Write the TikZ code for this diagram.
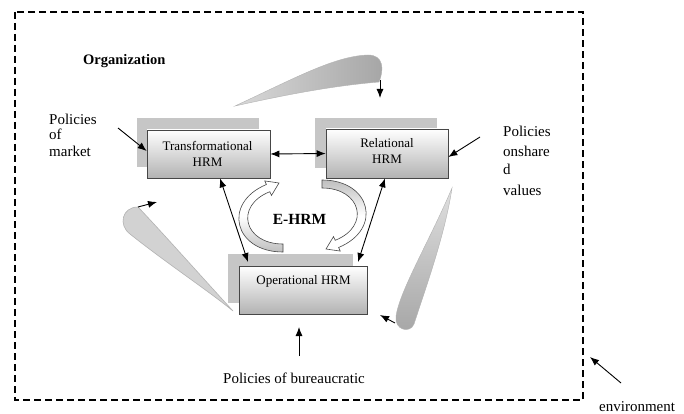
\documentclass[tikz,border=0pt]{standalone}
\usepackage{fontspec}
\setmainfont{Liberation Serif}
\usetikzlibrary{arrows.meta,calc}
\begin{document}
\begin{tikzpicture}[x=1pt,y=-1pt,
  frame/.style={draw, dash pattern=on 7pt off 4pt, line width=1.6pt},
  shadowbox/.style={fill=gray!45, draw=none, inner sep=0},
  hrmbox/.style={draw=gray!55!black, line width=0.7pt, top color=white, bottom color=gray!60, inner sep=0},
  boxtext/.style={font=\fontsize{13}{15}\selectfont, inner sep=0, anchor=base},
  lbl/.style={font=\fontsize{15}{17}\selectfont, inner sep=0, anchor=base west},
  arr/.style={-{Latex[length=9pt,width=7pt]}, line width=0.9pt},
  darr/.style={{Latex[length=9pt,width=7pt]}-{Latex[length=9pt,width=7pt]}, line width=0.9pt},
  blockL/.style={draw=gray!55!black, line width=0.6pt, top color=white, bottom color=gray!50, middle color=white},
  blockR/.style={draw=gray!55!black, line width=0.6pt, top color=gray!50, bottom color=white, middle color=white},
  swooshA/.style={left color=gray!30, right color=gray!70, draw=gray!60, line width=0.4pt},
  swooshB/.style={top color=gray!25, bottom color=gray!70, draw=gray!60, line width=0.4pt},
  swooshC/.style={fill=gray!35, draw=gray!60, line width=0.6pt}
]
\useasboundingbox (0,0) rectangle (684,414);
\fill[white] (0,0) rectangle (684,414);
\draw[frame] (15,12) rectangle (583,400);

\node[font=\fontsize{14.5}{16}\selectfont\bfseries, inner sep=0, anchor=base west] (org) at (83,65) {Organization};

% swooshes
\shade[swooshA] (235,106) .. controls (295,78) and (335,56) .. (368,55) .. controls (384,55) and (384,70) .. (379,82) .. controls (330,86) and (280,96) .. cycle;
\coordinate (ta1) at (380,80);
\coordinate (ta2) at (380,98);
\draw[arr] (ta1) -- (ta2);

\shade[swooshB] (452,188) .. controls (430,240) and (400,290) .. (396,316) .. controls (394,330) and (410,334) .. (414,324) .. controls (425,290) and (445,235) .. cycle;
\coordinate (ra1) at (395,323);
\coordinate (ra2) at (380,315);
\draw[arr] (ra1) -- (ra2);

\filldraw[swooshC] (233,311) .. controls (200,275) and (160,230) .. (138,207) .. controls (122,207) and (118,225) .. (130,234) .. controls (165,262) and (210,292) .. cycle;
\coordinate (la1) at (138,207);
\coordinate (la2) at (157,202);
\draw[arr] (la1) -- (la2);

% boxes
\node[shadowbox, minimum width=122pt, minimum height=49pt] (Ts) at (198,142.5) {};
\node[hrmbox, minimum width=123pt, minimum height=48pt] (T) at (208.5,154) {};
\node[boxtext] (t1) at (207.5,150) {Transformational};
\node[boxtext] (t2) at (207.5,166) {HRM};

\node[shadowbox, minimum width=122pt, minimum height=50pt] (Rs) at (376,143) {};
\node[hrmbox, minimum width=122pt, minimum height=49pt] (R) at (387,153.5) {};
\node[boxtext] (r1) at (387,148) {Relational};
\node[boxtext] (r2) at (387,163) {HRM};

\node[shadowbox, minimum width=125pt, minimum height=49pt] (Os) at (290.5,278.5) {};
\node[hrmbox, minimum width=128pt, minimum height=48pt] (O) at (303,290) {};
\node[boxtext] (o1t) at (303.5,284) {Operational HRM};

% E-HRM block arrows
\path[blockL] (283,252) .. controls (234,252) and (222,203) .. (266.4,184.5) -- (264.7,180.9) -- (279,183) -- (271.5,195.4) -- (269.8,191.7) .. controls (234,206) and (244,244) .. (283,244) -- cycle;
\path[blockR] (322,180) .. controls (371,180) and (383,229) .. (338.6,247.5) -- (340.3,251.1) -- (326,249) -- (333.5,236.6) -- (335.2,240.3) .. controls (371,226) and (361,188) .. (322,188) -- cycle;
\node[font=\fontsize{15.5}{17}\selectfont\bfseries, inner sep=0, anchor=base] (ehrm) at (299.5,224) {E-HRM};

% connectors
\draw[darr] (T.east) -- (R.west);
\coordinate (o1) at (248,262);
\coordinate (o2) at (358,262);
\draw[darr] ([xshift=11.5pt]T.south) -- (o1);
\draw[darr] ([xshift=-2pt]R.south) -- (o2);

% labels
\node[lbl] (pm1) at (49,125) {Policies};
\node[lbl] (pm2) at (49,140) {of};
\node[lbl] (pm3) at (49,157) {market};
\coordinate (cm) at (118,128);
\draw[arr] (cm) -- ([yshift=3pt]T.west);

\node[lbl] (ps1) at (503,137) {Policies};
\node[lbl] (ps2) at (503,157) {onshare};
\node[lbl] (ps3) at (503,175) {d};
\node[lbl] (ps4) at (503,195) {values};
\coordinate (cs) at (480,137);
\draw[arr] (cs) -- ([yshift=-3.5pt]R.east);

\node[lbl] (pb) at (223,383) {Policies of bureaucratic};
\coordinate (cb1) at (299,356);
\coordinate (cb2) at (299,327);
\draw[arr] (cb1) -- (cb2);

\node[lbl] (env) at (599,411) {environment};
\coordinate (ce1) at (621,383);
\coordinate (ce2) at (590,357);
\draw[arr] (ce1) -- (ce2);
\end{tikzpicture}
\end{document}
